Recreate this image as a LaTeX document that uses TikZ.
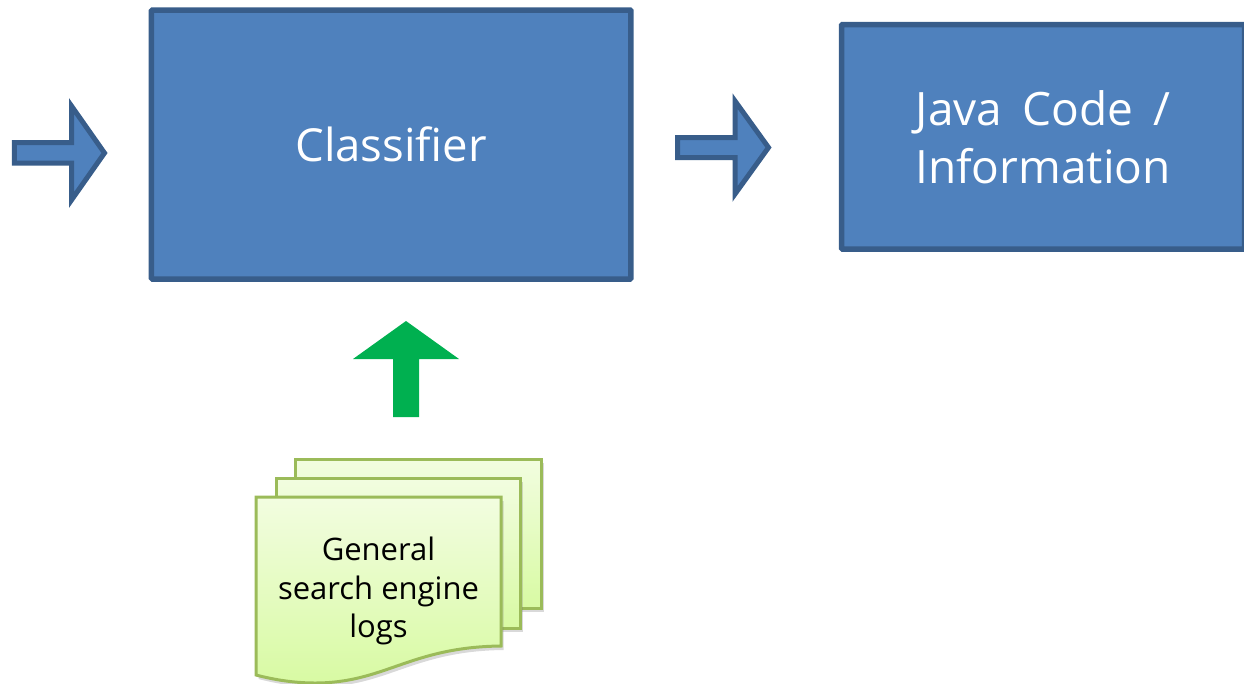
\documentclass[tikz,border=0pt]{standalone}
\usepackage{fontspec}
\setmainfont{Open Sans}
\usetikzlibrary{shadows}
\definecolor{boxfill}{HTML}{4F81BD}
\definecolor{boxline}{HTML}{385D8A}
\definecolor{logline}{HTML}{9BBB59}
\definecolor{upgreen}{HTML}{00B050}
\definecolor{logtop}{HTML}{F2FDE0}
\definecolor{logbottom}{HTML}{D8FAA3}
\tikzset{
  bluebox/.style={rectangle, draw=boxline, fill=boxfill, line width=5.5pt, rounded corners=1pt, text=white, align=center, font=\fontsize{46}{58}\selectfont, inner sep=0pt},
  bluearrow/.style={draw=boxline, fill=boxfill, line width=5pt, miter limit=10},
  logsheet/.style={draw=logline, line width=3pt, top color=logtop, bottom color=logbottom, drop shadow={shadow xshift=2.5pt, shadow yshift=-4pt, opacity=.3}}
}
\begin{document}
\begin{tikzpicture}[x=1pt,y=-1pt]
\useasboundingbox (0,0) rectangle (1244,683);
\clip (0,0) rectangle (1244,683);
\node (Classifier) [bluebox, minimum width=479.5pt, minimum height=269pt, font=\fontsize{45.5}{58}\selectfont] at (391.2,144.5) {Classifier};
\node (Java) [bluebox, minimum width=403pt, minimum height=224.5pt] at (1043,136.75) {Java\hspace{8pt} Code\hspace{8pt} /\\Information};

\draw[bluearrow] (14.3,142.5) -- (71.5,142.5) -- (71.5,106) -- (104.5,153) -- (71.5,200) -- (71.5,163.2) -- (14.3,163.2) -- cycle;
\draw[bluearrow] (677.5,137.5) -- (735,137.5) -- (735,101) -- (768.5,147.5) -- (735,194) -- (735,157.5) -- (677.5,157.5) -- cycle;
\fill[upgreen] (406,321) -- (459,359) -- (419,359) -- (419,417) -- (393,417) -- (393,359) -- (353,359) -- cycle;

\draw[logsheet] (295,459) -- (541,459) -- (541,608) -- (295,608) -- cycle;
\draw[logsheet] (276,478) -- (520,478) -- (520,628) -- (276,628) -- cycle;
\draw[logsheet] (256,497) -- (501,497) -- (501,646) .. controls (410,647) and (385,683) .. (315,683) .. controls (295,683) and (275,680) .. (256,675) -- cycle;
\node (Logs) [align=center, font=\fontsize{31}{38.5}\selectfont, text=black, inner sep=0pt] at (378.5,591) {General\\search engine\\logs};
\end{tikzpicture}
\end{document}
